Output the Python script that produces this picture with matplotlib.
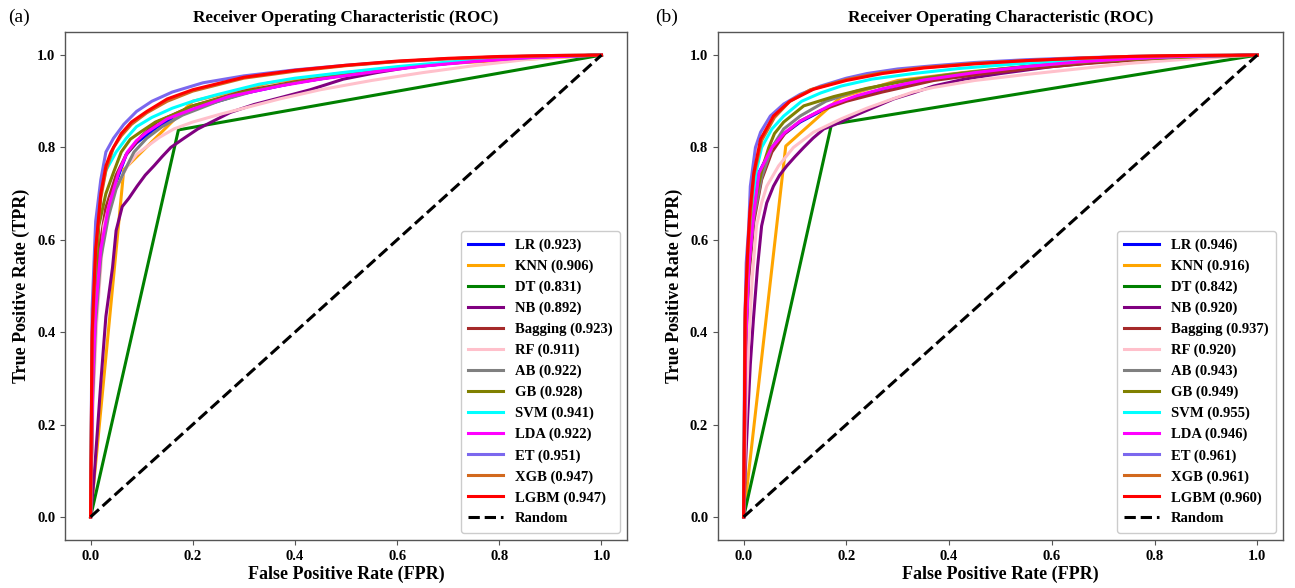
import matplotlib
matplotlib.use("Agg")
import matplotlib.pyplot as plt

# ---------------- data: panel (a) ----------------
A_LR_FPR = [0, 0.004, 0.01, 0.02, 0.035, 0.055, 0.07, 0.09, 0.13, 0.17, 0.22, 0.3, 0.4, 0.5, 0.6, 0.7, 0.8, 0.9, 1.0]
A_LR_TPR = [0, 0.27, 0.44, 0.58, 0.67, 0.74, 0.785, 0.81, 0.844, 0.868, 0.89, 0.917, 0.94, 0.957, 0.971, 0.982, 0.991, 0.997, 1.0]
A_KNN_FPR = [0, 0.052, 0.065, 0.2, 0.35, 0.5, 0.7, 1.0]
A_KNN_TPR = [0, 0.6, 0.752, 0.9, 0.94, 0.962, 0.982, 1.0]
A_DT_FPR = [0, 0.172, 1.0]
A_DT_TPR = [0, 0.838, 1.0]
A_NB_FPR = [0, 0.006, 0.013, 0.02, 0.03, 0.043, 0.05, 0.062, 0.075, 0.091, 0.107, 0.124, 0.14, 0.157, 0.183,
            0.21, 0.24, 0.274, 0.32, 0.372, 0.43, 0.495, 0.56, 0.626, 0.7, 0.8, 0.9, 1.0]
A_NB_TPR = [0, 0.074, 0.18, 0.29, 0.434, 0.54, 0.62, 0.672, 0.69, 0.716, 0.74, 0.76, 0.78, 0.80, 0.82,
            0.84, 0.857, 0.876, 0.893, 0.908, 0.925, 0.948, 0.962, 0.974, 0.983, 0.992, 0.997, 1.0]
A_BAG_FPR = [0, 0.004, 0.01, 0.02, 0.03, 0.05, 0.07, 0.1, 0.13, 0.16, 0.2, 0.3, 0.4, 0.5, 0.6, 0.7, 0.8, 0.9, 1.0]
A_BAG_TPR = [0, 0.28, 0.45, 0.6, 0.67, 0.74, 0.785, 0.825, 0.855, 0.87, 0.89, 0.922, 0.942, 0.958, 0.972, 0.983, 0.991, 0.997, 1.0]
A_RF_FPR = [0, 0.005, 0.012, 0.026, 0.04, 0.052, 0.072, 0.09, 0.108, 0.135, 0.163, 0.2, 0.254, 0.3, 0.37, 0.45,
            0.55, 0.65, 0.75, 0.85, 0.95, 1.0]
A_RF_TPR = [0, 0.25, 0.42, 0.63, 0.69, 0.716, 0.76, 0.785, 0.80, 0.822, 0.84, 0.855, 0.872, 0.885, 0.905, 0.925,
            0.945, 0.962, 0.977, 0.99, 0.998, 1.0]
A_AB_FPR = [0, 0.004, 0.01, 0.02, 0.035, 0.05, 0.065, 0.085, 0.11, 0.14, 0.18, 0.25, 0.33, 0.4, 0.5, 0.6, 0.7, 0.8, 0.9, 1.0]
A_AB_TPR = [0, 0.25, 0.42, 0.56, 0.65, 0.71, 0.746, 0.79, 0.82, 0.845, 0.87, 0.9, 0.925, 0.94, 0.957, 0.971, 0.982, 0.991, 0.997, 1.0]
A_GB_FPR = [0, 0.004, 0.01, 0.016, 0.03, 0.045, 0.06, 0.078, 0.1, 0.127, 0.16, 0.2, 0.3, 0.4, 0.5, 0.6, 0.7, 0.8, 0.9, 1.0]
A_GB_TPR = [0, 0.3, 0.5, 0.63, 0.7, 0.746, 0.79, 0.818, 0.835, 0.855, 0.87, 0.89, 0.92, 0.94, 0.958, 0.972, 0.983, 0.992, 0.997, 1.0]
A_SVM_FPR = [0, 0.003, 0.01, 0.02, 0.03, 0.05, 0.07, 0.09, 0.12, 0.16, 0.2, 0.25, 0.33, 0.4, 0.5, 0.6, 0.7, 0.8, 0.9, 1.0]
A_SVM_TPR = [0, 0.35, 0.58, 0.7, 0.75, 0.79, 0.82, 0.845, 0.865, 0.885, 0.9, 0.915, 0.937, 0.95, 0.963, 0.975, 0.985, 0.992, 0.997, 1.0]
A_LDA_FPR = [0, 0.004, 0.01, 0.02, 0.035, 0.055, 0.072, 0.09, 0.11, 0.15, 0.2, 0.27, 0.37, 0.45, 0.55, 0.65, 0.75, 0.85, 1.0]
A_LDA_TPR = [0, 0.28, 0.45, 0.58, 0.67, 0.746, 0.79, 0.815, 0.833, 0.862, 0.883, 0.91, 0.933, 0.948, 0.963, 0.976, 0.986, 0.994, 1.0]
A_ET_FPR = [0, 0.003, 0.01, 0.02, 0.03, 0.045, 0.065, 0.09, 0.12, 0.16, 0.22, 0.3, 0.4, 0.5, 0.6, 0.7, 0.8, 0.9, 1.0]
A_ET_TPR = [0, 0.45, 0.64, 0.73, 0.79, 0.82, 0.85, 0.878, 0.9, 0.92, 0.94, 0.955, 0.968, 0.978, 0.986, 0.992, 0.996, 0.999, 1.0]
A_XGB_FPR = [0, 0.003, 0.01, 0.02, 0.03, 0.045, 0.06, 0.08, 0.11, 0.15, 0.2, 0.3, 0.4, 0.5, 0.6, 0.7, 0.8, 0.9, 1.0]
A_XGB_TPR = [0, 0.38, 0.57, 0.69, 0.75, 0.8, 0.825, 0.85, 0.875, 0.9, 0.922, 0.95, 0.965, 0.977, 0.986, 0.992, 0.996, 0.999, 1.0]
A_LGBM_FPR = [0, 0.003, 0.01, 0.02, 0.03, 0.04, 0.06, 0.08, 0.11, 0.15, 0.2, 0.3, 0.4, 0.5, 0.6, 0.7, 0.8, 0.9, 1.0]
A_LGBM_TPR = [0, 0.4, 0.58, 0.7, 0.76, 0.79, 0.83, 0.855, 0.878, 0.905, 0.925, 0.952, 0.967, 0.978, 0.987, 0.993, 0.997, 0.999, 1.0]
A_AUC = [0.923, 0.906, 0.831, 0.892, 0.923, 0.911, 0.922, 0.928, 0.941, 0.922, 0.951, 0.947, 0.947]

# ---------------- data: panel (b) ----------------
B_LR_FPR = [0, 0.004, 0.01, 0.02, 0.03, 0.055, 0.08, 0.11, 0.17, 0.22, 0.27, 0.35, 0.45, 0.55, 0.65, 0.75, 0.85, 1.0]
B_LR_TPR = [0, 0.38, 0.55, 0.66, 0.746, 0.8, 0.83, 0.855, 0.89, 0.91, 0.926, 0.945, 0.962, 0.975, 0.985, 0.992, 0.997, 1.0]
B_KNN_FPR = [0, 0.082, 0.189, 0.3, 0.45, 0.6, 0.8, 1.0]
B_KNN_TPR = [0, 0.803, 0.909, 0.945, 0.965, 0.978, 0.992, 1.0]
B_DT_FPR = [0, 0.171, 1.0]
B_DT_TPR = [0, 0.85, 1.0]
B_NB_FPR = [0, 0.004, 0.008, 0.013, 0.019, 0.027, 0.035, 0.045, 0.058, 0.07, 0.084, 0.1, 0.117, 0.135, 0.156,
            0.185, 0.214, 0.25, 0.292, 0.33, 0.37, 0.43, 0.5, 0.6, 0.7, 0.8, 0.9, 1.0]
B_NB_TPR = [0, 0.12, 0.22, 0.33, 0.427, 0.54, 0.63, 0.68, 0.716, 0.74, 0.76, 0.78, 0.80, 0.82, 0.84,
            0.853, 0.868, 0.885, 0.905, 0.918, 0.933, 0.948, 0.96, 0.975, 0.986, 0.993, 0.998, 1.0]
B_BAG_FPR = [0, 0.004, 0.01, 0.02, 0.035, 0.055, 0.08, 0.11, 0.15, 0.2, 0.27, 0.37, 0.47, 0.57, 0.67, 0.77, 0.87, 1.0]
B_BAG_TPR = [0, 0.35, 0.52, 0.64, 0.73, 0.79, 0.83, 0.857, 0.88, 0.9, 0.92, 0.945, 0.96, 0.972, 0.982, 0.99, 0.996, 1.0]
B_RF_FPR = [0, 0.004, 0.01, 0.017, 0.025, 0.035, 0.045, 0.068, 0.097, 0.136, 0.19, 0.24, 0.29, 0.33, 0.37, 0.45,
            0.55, 0.65, 0.75, 0.85, 0.95, 1.0]
B_RF_TPR = [0, 0.2, 0.38, 0.52, 0.63, 0.68, 0.716, 0.76, 0.80, 0.833, 0.862, 0.885, 0.905, 0.92, 0.93, 0.945,
            0.958, 0.97, 0.982, 0.99, 0.997, 1.0]
B_AB_FPR = [0, 0.004, 0.01, 0.02, 0.035, 0.055, 0.078, 0.11, 0.16, 0.22, 0.3, 0.4, 0.5, 0.6, 0.7, 0.8, 0.9, 1.0]
B_AB_TPR = [0, 0.38, 0.54, 0.65, 0.735, 0.8, 0.84, 0.868, 0.9, 0.922, 0.942, 0.958, 0.97, 0.98, 0.988, 0.994, 0.998, 1.0]
B_GB_FPR = [0, 0.004, 0.01, 0.02, 0.035, 0.049, 0.06, 0.078, 0.117, 0.175, 0.24, 0.32, 0.42, 0.52, 0.62, 0.72, 0.82, 0.92, 1.0]
B_GB_TPR = [0, 0.4, 0.56, 0.67, 0.75, 0.8, 0.83, 0.855, 0.89, 0.91, 0.928, 0.945, 0.96, 0.972, 0.982, 0.989, 0.994, 0.998, 1.0]
B_SVM_FPR = [0, 0.003, 0.008, 0.015, 0.025, 0.035, 0.055, 0.078, 0.113, 0.15, 0.19, 0.25, 0.33, 0.42, 0.52, 0.62, 0.72, 0.82, 0.92, 1.0]
B_SVM_TPR = [0, 0.4, 0.55, 0.66, 0.75, 0.8, 0.84, 0.868, 0.9, 0.918, 0.933, 0.948, 0.96, 0.971, 0.98, 0.987, 0.992, 0.996, 0.999, 1.0]
B_LDA_FPR = [0, 0.004, 0.01, 0.02, 0.03, 0.055, 0.08, 0.11, 0.17, 0.22, 0.27, 0.35, 0.45, 0.55, 0.65, 0.75, 0.85, 1.0]
B_LDA_TPR = [0, 0.37, 0.54, 0.66, 0.745, 0.8, 0.832, 0.857, 0.892, 0.912, 0.927, 0.946, 0.962, 0.975, 0.985, 0.992, 0.997, 1.0]
B_ET_FPR = [0, 0.002, 0.005, 0.01, 0.013, 0.023, 0.033, 0.052, 0.078, 0.11, 0.15, 0.2, 0.24, 0.3, 0.37, 0.45, 0.55, 0.65, 0.75, 0.85, 1.0]
B_ET_TPR = [0, 0.4, 0.55, 0.63, 0.716, 0.80, 0.833, 0.868, 0.894, 0.915, 0.933, 0.95, 0.96, 0.97, 0.977, 0.984, 0.99, 0.994, 0.997, 0.999, 1.0]
B_XGB_FPR = [0, 0.003, 0.008, 0.013, 0.02, 0.035, 0.06, 0.09, 0.13, 0.2, 0.27, 0.35, 0.45, 0.55, 0.65, 0.75, 0.85, 1.0]
B_XGB_TPR = [0, 0.43, 0.57, 0.65, 0.74, 0.815, 0.865, 0.9, 0.925, 0.947, 0.962, 0.973, 0.982, 0.988, 0.993, 0.997, 0.999, 1.0]
B_LGBM_FPR = [0, 0.003, 0.008, 0.012, 0.02, 0.033, 0.058, 0.09, 0.136, 0.2, 0.27, 0.35, 0.45, 0.55, 0.65, 0.75, 0.85, 1.0]
B_LGBM_TPR = [0, 0.45, 0.58, 0.66, 0.746, 0.818, 0.868, 0.9, 0.926, 0.945, 0.96, 0.972, 0.981, 0.988, 0.993, 0.997, 0.999, 1.0]
B_AUC = [0.946, 0.916, 0.842, 0.920, 0.937, 0.920, 0.943, 0.949, 0.955, 0.946, 0.961, 0.961, 0.960]

MODELS = ["LR", "KNN", "DT", "NB", "Bagging", "RF", "AB", "GB", "SVM", "LDA", "ET", "XGB", "LGBM"]
COLORS = ["blue", "orange", "green", "purple", "brown", "pink", "gray", "olive", "cyan", "magenta",
          "mediumslateblue", "chocolate", "red"]
RANDOM_X = [0, 1]
RANDOM_Y = [0, 1]

A_CURVES = [(A_LR_FPR, A_LR_TPR), (A_KNN_FPR, A_KNN_TPR), (A_DT_FPR, A_DT_TPR), (A_NB_FPR, A_NB_TPR),
            (A_BAG_FPR, A_BAG_TPR), (A_RF_FPR, A_RF_TPR), (A_AB_FPR, A_AB_TPR), (A_GB_FPR, A_GB_TPR),
            (A_SVM_FPR, A_SVM_TPR), (A_LDA_FPR, A_LDA_TPR), (A_ET_FPR, A_ET_TPR), (A_XGB_FPR, A_XGB_TPR),
            (A_LGBM_FPR, A_LGBM_TPR)]
B_CURVES = [(B_LR_FPR, B_LR_TPR), (B_KNN_FPR, B_KNN_TPR), (B_DT_FPR, B_DT_TPR), (B_NB_FPR, B_NB_TPR),
            (B_BAG_FPR, B_BAG_TPR), (B_RF_FPR, B_RF_TPR), (B_AB_FPR, B_AB_TPR), (B_GB_FPR, B_GB_TPR),
            (B_SVM_FPR, B_SVM_TPR), (B_LDA_FPR, B_LDA_TPR), (B_ET_FPR, B_ET_TPR), (B_XGB_FPR, B_XGB_TPR),
            (B_LGBM_FPR, B_LGBM_TPR)]

plt.rcParams['font.family'] = ['Liberation Serif', 'DejaVu Serif']

fig = plt.figure(figsize=(12.95, 5.88), dpi=100)
ax_a = fig.add_axes([0.0502, 0.0816, 0.4340, 0.8640])
ax_b = fig.add_axes([0.5544, 0.0816, 0.4363, 0.8640])

EDGE = '#555555'
for ax, curves, aucs in [(ax_a, A_CURVES, A_AUC), (ax_b, B_CURVES, B_AUC)]:
    for (fpr, tpr), name, col, auc in zip(curves, MODELS, COLORS, aucs):
        ax.plot(fpr, tpr, color=col, lw=2.2, label=f"{name} ({auc:.3f})")
    ax.plot(RANDOM_X, RANDOM_Y, 'k--', lw=2.2, label='Random')
    ax.set_title('Receiver Operating Characteristic (ROC)', fontsize=12.3, fontweight='bold', pad=7)
    ax.set_xlabel('False Positive Rate (FPR)', fontsize=13, fontweight='bold', labelpad=2)
    ax.set_ylabel('True Positive Rate (TPR)', fontsize=13, fontweight='bold', labelpad=5)
    ax.set_xticks([0.0, 0.2, 0.4, 0.6, 0.8, 1.0])
    ax.set_yticks([0.0, 0.2, 0.4, 0.6, 0.8, 1.0])
    for lab in ax.get_xticklabels() + ax.get_yticklabels():
        lab.set_fontweight('bold')
        lab.set_fontsize(10.5)
    for sp in ax.spines.values():
        sp.set_color(EDGE)
        sp.set_linewidth(1.0)
    ax.tick_params(color=EDGE)
    leg = ax.legend(loc='lower right', prop={'weight': 'bold', 'size': 10.5}, handlelength=2.4,
                    labelspacing=0.52, borderpad=0.5, framealpha=1.0)
    leg.get_frame().set_edgecolor('#cccccc')

fig.text(0.006, 0.970, '(a)', fontsize=14, ha='left', va='center')
fig.text(0.506, 0.970, '(b)', fontsize=14, ha='left', va='center')

fig.savefig('out.png', dpi=100)
